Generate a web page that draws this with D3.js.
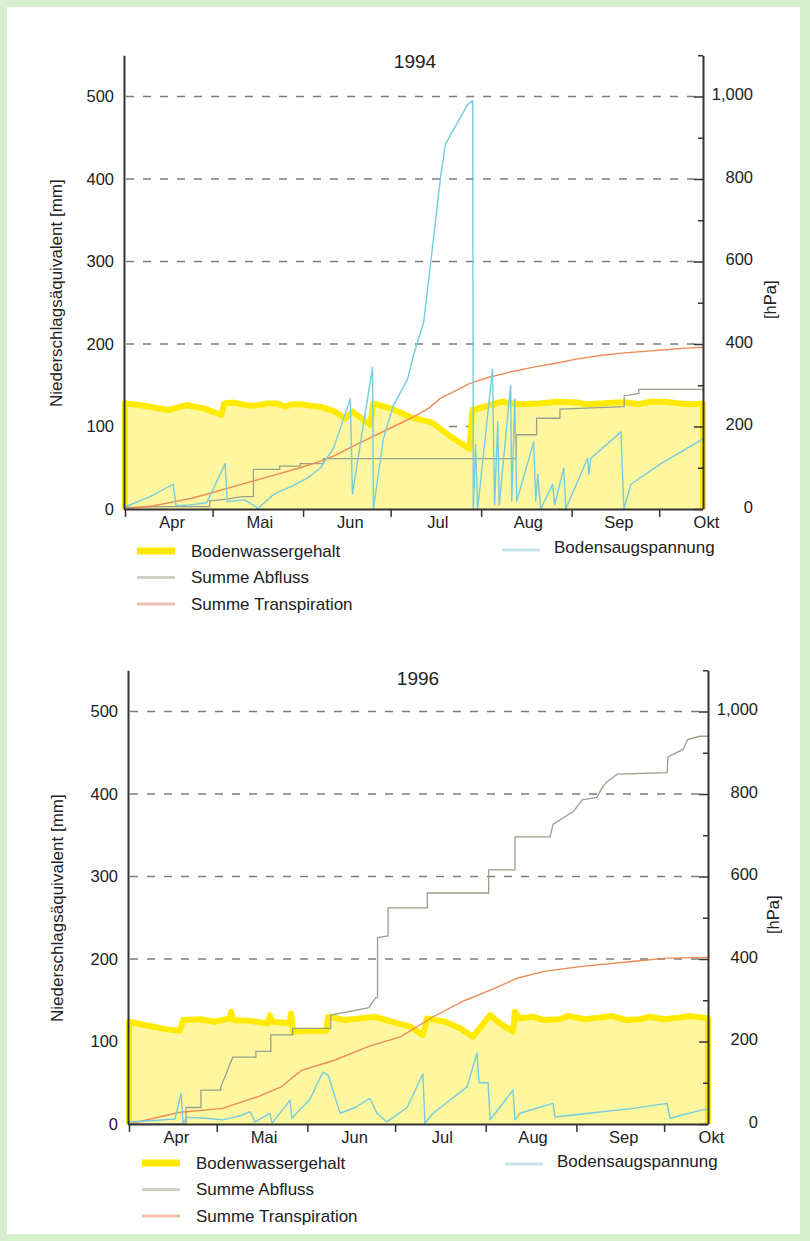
<!DOCTYPE html>
<html>
<head>
<meta charset="utf-8">
<script src="https://cdn.jsdelivr.net/npm/d3@7"></script>
<style>
  html, body { margin: 0; padding: 0; background: #d6efcf; }
  svg { display: block; font-family: "Liberation Sans", Arial, Helvetica, sans-serif; }
</style>
</head>
<body>
<svg id="chart" width="810" height="1241"></svg>
<script>
// Season axis: days counted from 1 April
const months = ["Apr", "Mai", "Jun", "Jul", "Aug", "Sep", "Okt"];
const monthStartDays = [0, 30, 61, 91, 122, 153, 183];
const monthLabelDays = [16, 46, 77, 107, 138, 169, 199];
const mmTicks = [0, 100, 200, 300, 400, 500];
const hpaTicks = [0, 200, 400, 600, 800, 1000];
const hpaMinorTicks = [100, 300, 500, 700, 900, 1100];

// 1994 — [day, value]
const soil1994 = [[0,128],[5,126],[10,123],[15,120],[21,126],[27,122],[33,114],[34,128],[37,129],[40,127],[43,125],[46,126],[49,128],[52,128],[55,124],[57,127],[60,127],[62,126],[64,125],[67,124],[72,118],[75.5,110],[78,118],[84,102],[85,128],[91,122],[98,111],[105,105],[111.5,88],[118,73],[119,120],[125,126],[129,130],[135,127],[142,128],[148,130],[155,129],[158,127],[163,128],[168,129],[172,129],[176,127],[180,130],[185,130],[190,128],[194,127],[198,128]];
const runoff1994 = [[0,2],[15,3],[29,3],[29,10],[35,12],[40,15],[44,15],[44,48],[53,48],[53,52],[60,52],[60,55],[68,55],[68,61],[134,61],[134,90],[141,90],[141,110],[149,110],[149,121],[171,124],[171,137],[176,140],[176,145],[198,145]];
const transp1994 = [[0,0],[10,4],[17,9],[23,13],[30,20],[38,28],[45,35],[52,42],[60,50],[67,58],[72,65],[78,76],[85,88],[92,100],[99,112],[104,122],[108,134],[113,143],[118,152],[125,160],[132,166],[140,172],[148,177],[155,182],[163,186],[170,189],[178,191],[185,193],[192,195],[198,196]];
const suction1994 = [[0,5],[8.6,30],[16.5,60],[17.5,8],[22.3,10],[28,15],[34.3,110],[35,18],[41,22],[45,5],[45.3,0],[51,36],[57,55],[62.5,75],[67,100],[71.4,147],[77.2,267],[77.9,36],[84.8,344],[85.1,0],[88.5,170],[92,252],[96.8,315],[98.8,372],[102.3,452],[104.7,596],[108.1,805],[109.8,885],[117.4,981],[119.1,990],[119.3,0],[120.1,156],[120.8,0],[125.9,339],[126.6,10],[127.7,212],[128.2,10],[132.1,300],[132.5,20],[133.5,267],[134.2,19],[140,163],[140.7,20],[141.4,84],[142.4,0],[146.5,60],[147.2,10],[150.3,99],[151,0],[158.5,123],[158.9,84],[159.6,123],[169.9,187],[170.9,0],[173.3,60],[183.6,110],[198,170]];

// 1996 — [day, value]
const soil1996 = [[0,124],[5.5,120],[12.3,115],[17.4,113],[18.5,126],[24.3,127],[29.4,124],[34.5,128],[34.9,136],[35.6,126],[41.4,125],[47.5,122],[48.2,132],[48.9,124],[55,122],[55.4,134],[56.1,112],[61.9,113],[67.4,113],[68.1,130],[73.9,126],[79,128],[84.1,130],[89.9,124],[96.1,118],[100.5,108],[101.9,128],[108.1,124],[113.2,116],[117.6,106],[123.5,132],[126.9,122],[131.3,112],[132,136],[133.7,128],[138,130],[142,126],[147.4,127],[150,131],[156,127],[161.1,129],[165,131],[170,126],[174.8,127],[178,130],[183,127],[188.4,129],[192,131],[198,128]];
const runoff1996 = [[0,0],[19.5,0],[19.5,20],[24.6,20],[24.6,41],[31.4,41],[31.4,45],[35.5,81],[43.4,81],[43.4,88],[48.5,88],[48.5,108],[56,108],[56,116],[69,116],[69,132],[82,141],[84.3,153],[85,153],[85,226],[88.6,228],[88.6,262],[102,262],[102,280],[123,280],[123,308],[132,308],[132,348],[144,348],[145,363],[152,379],[155,393],[160,396],[162,409],[163.5,415],[167,424],[184,426],[184.3,445],[189.5,454],[191,466],[195.3,470],[198,470]];
const transp1996 = [[0,0],[17,14],[32,19],[44,33],[52,45],[59,65],[70,77],[82,94],[93,106],[104,130],[115,150],[124,163],[133,177],[142,185],[155,191],[172,197],[184,201],[198,202]];
const suction1996 = [[0,5],[7.2,8],[15.7,12],[17.8,74],[18.5,2],[19.8,16],[26,14],[32.1,10],[38,20],[41.4,30],[43.1,5],[48.2,26],[48.9,2],[55.1,58],[55.7,14],[61.9,60],[66.3,126],[68.1,118],[72.2,26],[77.3,40],[82.4,62],[84.8,26],[88.2,5],[95.1,40],[100.5,122],[101.2,2],[104,26],[115.6,90],[119,172],[119.7,100],[122.8,100],[123.5,10],[131.3,82],[132,10],[133.7,26],[145,50],[145.7,17],[161.1,29],[172.4,38],[184,50],[185,14],[195.3,33],[198,36]];

const legendLeft = ["Bodenwassergehalt", "Summe Abfluss", "Summe Transpiration"];
const legendRight = "Bodensaugspannung";
const yTitle = "Niederschlagsäquivalent [mm]";
const yRightTitle = "[hPa]";

const colors = {
  soilLine: "#ffeb00",
  soilFill: "#fff6a0",
  runoff: "#98a18c",
  transp: "#ec8c55",
  suction: "#74cde0",
  grid: "#7c7c7c",
  axis: "#333333",
  text: "#222222"
};
const swatch = [
  { color: "#ffe800", width: 7 },
  { color: "#cdd2c6", width: 3 },
  { color: "#efbfad", width: 3 },
  { color: "#c4e6ea", width: 3 }
];

const panels = [
  { title: "1994", soil: soil1994, runoff: runoff1994, transp: transp1994, suction: suction1994,
    left: 124, right: 703, bottom: 509, titleX: 415, titleY: 68,
    yTitleX: 56, hpaX: 770, legendX: 137, legendY: 551, rightLegendX: 502, rightLegendY: 547 },
  { title: "1996", soil: soil1996, runoff: runoff1996, transp: transp1996, suction: suction1996,
    left: 128, right: 708, bottom: 1124, titleX: 418, titleY: 685,
    yTitleX: 57, hpaX: 773, legendX: 142, legendY: 1163, rightLegendX: 505, rightLegendY: 1161 }
];

const svg = d3.select("#chart");
svg.append("rect").attr("width", 810).attr("height", 1241).attr("fill", "#d6efcf");
svg.append("rect").attr("x", 7).attr("y", 7).attr("width", 793).attr("height", 1227).attr("fill", "#fefffe");

const pxPerMm = 0.825;

function styleAxis(g, fontSize) {
  g.attr("font-family", null).attr("font-size", null);
  g.select(".domain").attr("stroke", colors.axis).attr("stroke-width", 2);
  g.selectAll(".tick line").attr("stroke", colors.axis).attr("stroke-width", 1.5);
  g.selectAll(".tick text").attr("fill", colors.text).style("font-size", fontSize + "px");
}

panels.forEach(p => {
  const x = d3.scaleLinear().domain([0, 198]).range([p.left + 1, p.right]);
  const y = d3.scaleLinear().domain([0, 550]).range([p.bottom, p.bottom - 550 * pxPerMm]);
  const yR = d3.scaleLinear().domain([0, 1100]).range([p.bottom, p.bottom - 550 * pxPerMm]);
  const g = svg.append("g");

  // dashed horizontal grid
  g.append("g").selectAll("line")
    .data(mmTicks.filter(v => v > 0))
    .join("line")
    .attr("x1", p.left + 2).attr("x2", p.right)
    .attr("y1", d => y(d)).attr("y2", d => y(d))
    .attr("stroke", colors.grid).attr("stroke-width", 1.4)
    .attr("stroke-dasharray", "8,9");

  // soil water area
  g.append("path")
    .datum(p.soil)
    .attr("fill", colors.soilFill)
    .attr("d", d3.area().x(d => x(d[0])).y0(y(0)).y1(d => y(d[1])));

  const soilOutline = [[0, 0], ...p.soil, [198, 0]];
  g.append("path")
    .datum(soilOutline)
    .attr("fill", "none")
    .attr("stroke", colors.soilLine).attr("stroke-width", 6)
    .attr("stroke-linejoin", "round")
    .attr("d", d3.line().x(d => x(d[0])).y(d => y(d[1])));

  const lineMm = d3.line().x(d => x(d[0])).y(d => y(d[1]));
  const lineHpa = d3.line().x(d => x(d[0])).y(d => yR(d[1]));

  g.append("path").datum(p.runoff)
    .attr("fill", "none").attr("stroke", colors.runoff).attr("stroke-width", 1.3)
    .attr("d", lineMm);
  g.append("path").datum(p.transp)
    .attr("fill", "none").attr("stroke", colors.transp).attr("stroke-width", 1.4)
    .attr("d", lineMm);
  g.append("path").datum(p.suction)
    .attr("fill", "none").attr("stroke", colors.suction).attr("stroke-width", 1.4)
    .attr("stroke-linejoin", "round")
    .attr("d", lineHpa);

  // left axis
  const leftAxis = g.append("g")
    .attr("transform", `translate(${p.left},0)`)
    .call(d3.axisLeft(y).tickValues(mmTicks).tickSize(0).tickPadding(10).tickSizeOuter(0));
  styleAxis(leftAxis, 16.5);

  // right axis: minor and major ticks pointing inward, labels right-aligned
  const rightMinor = g.append("g")
    .attr("transform", `translate(${p.right},0)`)
    .call(d3.axisRight(yR).tickValues(hpaMinorTicks).tickSize(-5).tickFormat("").tickSizeOuter(0));
  styleAxis(rightMinor, 16.5);
  const rightMajor = g.append("g")
    .attr("transform", `translate(${p.right},0)`)
    .call(d3.axisRight(yR).tickValues(hpaTicks).tickSize(-9).tickFormat(d3.format(",")).tickSizeOuter(0));
  styleAxis(rightMajor, 16.5);
  rightMajor.selectAll(".tick text").attr("x", 50).attr("text-anchor", "end").attr("dy", "0.2em");
  rightMajor.select(".domain").remove();

  // bottom axis: month boundaries with ticks, month names mid-month
  const xTicks = g.append("g")
    .attr("transform", `translate(0,${p.bottom})`)
    .call(d3.axisBottom(x).tickValues(monthStartDays).tickSize(8).tickFormat("").tickSizeOuter(0));
  styleAxis(xTicks, 16.5);
  xTicks.select(".domain").attr("d", `M${p.left},0.5H${p.right}`);
  const xLabels = g.append("g")
    .attr("transform", `translate(0,${p.bottom})`)
    .call(d3.axisBottom(x).tickValues(monthLabelDays).tickSize(0).tickPadding(7.5)
      .tickFormat((d, i) => months[i]));
  styleAxis(xLabels, 16.5);
  xLabels.select(".domain").remove();

  // titles
  g.append("text")
    .attr("x", p.titleX).attr("y", p.titleY)
    .attr("text-anchor", "middle").attr("fill", colors.text)
    .style("font-size", "19px")
    .text(p.title);

  const yMid = (y(0) + y(550)) / 2 + 11;
  g.append("text")
    .attr("transform", `translate(${p.yTitleX},${yMid}) rotate(-90)`)
    .attr("text-anchor", "middle").attr("dy", "0.35em").attr("fill", colors.text)
    .style("font-size", "17px")
    .text(yTitle);
  g.append("text")
    .attr("transform", `translate(${p.hpaX},${y(250) - 3}) rotate(-90)`)
    .attr("text-anchor", "middle").attr("dy", "0.35em").attr("fill", colors.text)
    .style("font-size", "16.5px")
    .text(yRightTitle);

  // legend
  const lg = g.append("g");
  legendLeft.forEach((label, i) => {
    const ly = p.legendY + i * 26.5;
    lg.append("line")
      .attr("x1", p.legendX).attr("x2", p.legendX + 38)
      .attr("y1", ly).attr("y2", ly)
      .attr("stroke", swatch[i].color).attr("stroke-width", swatch[i].width);
    lg.append("text")
      .attr("x", p.legendX + 54).attr("y", ly).attr("dy", "0.35em")
      .attr("fill", colors.text).style("font-size", "17px")
      .text(label);
  });
  lg.append("line")
    .attr("x1", p.rightLegendX).attr("x2", p.rightLegendX + 38)
    .attr("y1", p.rightLegendY + 3).attr("y2", p.rightLegendY + 3)
    .attr("stroke", swatch[3].color).attr("stroke-width", swatch[3].width);
  lg.append("text")
    .attr("x", p.rightLegendX + 52).attr("y", p.rightLegendY).attr("dy", "0.35em")
    .attr("fill", colors.text).style("font-size", "17px")
    .text(legendRight);
});
</script>
</body>
</html>
